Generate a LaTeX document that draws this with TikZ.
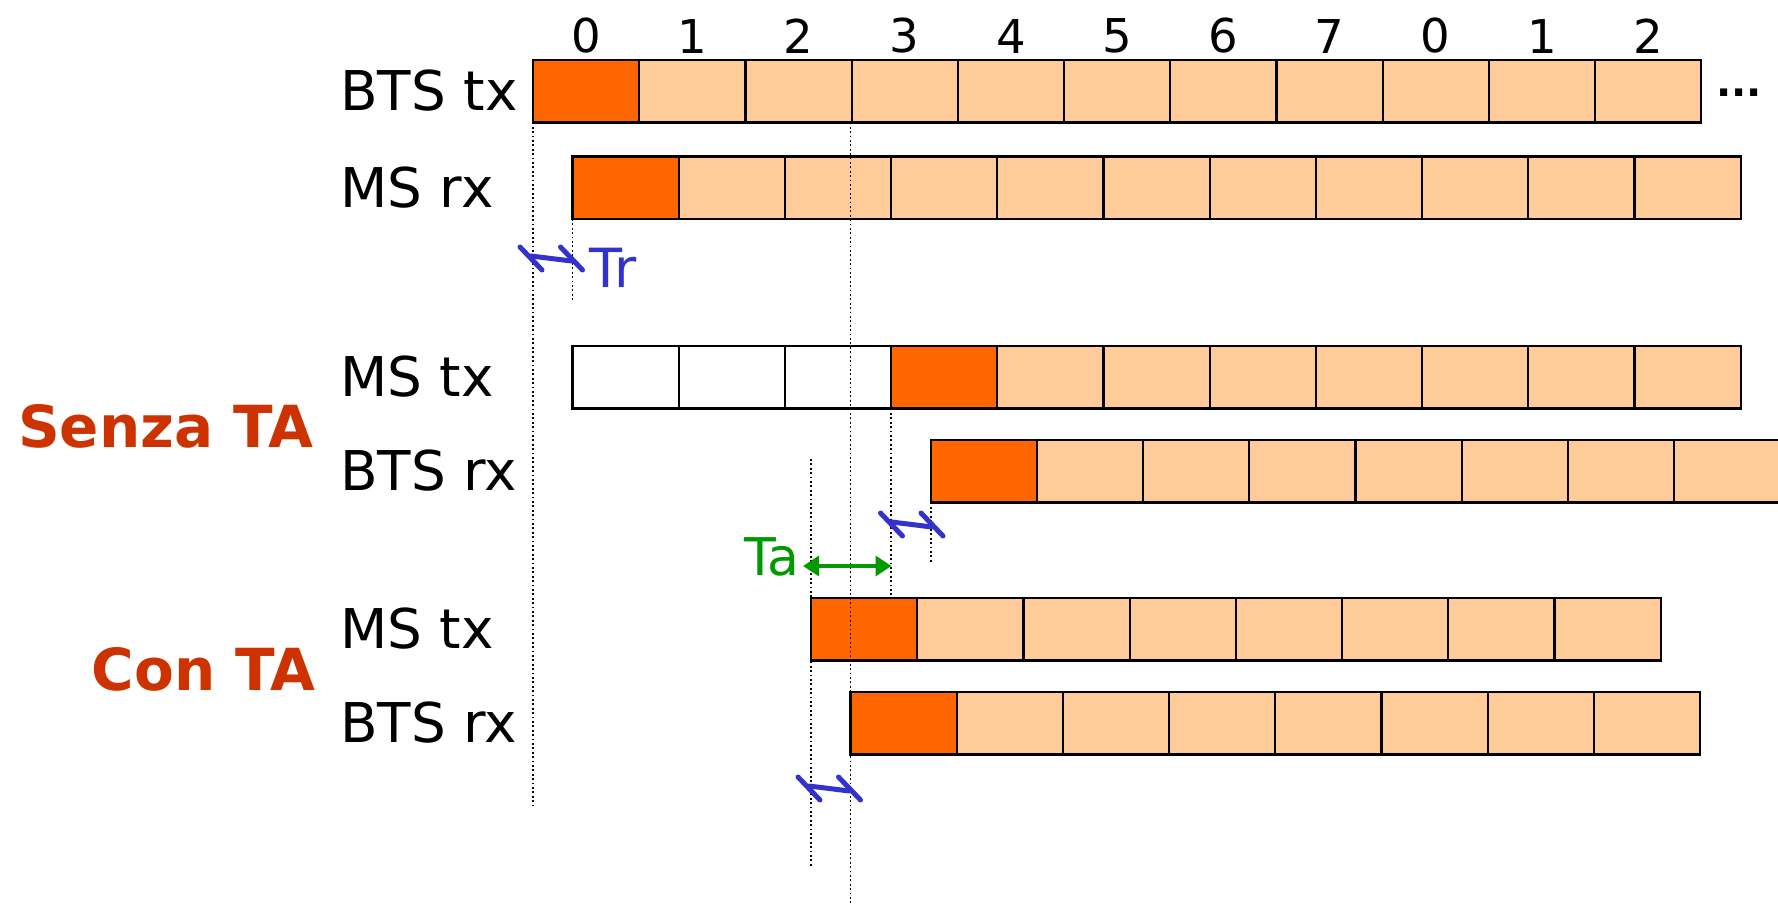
\documentclass[tikz,border=0pt]{standalone}
\usepackage{fontspec}
\setmainfont{DejaVu Sans}
\usetikzlibrary{arrows.meta,positioning}
\definecolor{slotdark}{HTML}{FF6600}
\definecolor{slotlight}{HTML}{FFCC99}
\definecolor{tared}{HTML}{CC3300}
\definecolor{trblue}{HTML}{3333CC}
\definecolor{tagreen}{HTML}{009900}

\begin{document}
\begin{tikzpicture}[x=0.5pt,y=-0.5pt,
  slot/.style={draw=black,line width=1.1pt,fill=slotlight,minimum width=53.1pt,
    minimum height=31.25pt,inner sep=0pt,outer sep=0pt,anchor=north west},
  first/.style={slot,fill=slotdark},
  blank/.style={slot,fill=white},
  rowlabel/.style={anchor=west,inner sep=0pt,font=\fontsize{27.4}{30}\selectfont},
  digit/.style={inner sep=0pt,font=\fontsize{23.3}{26}\selectfont},
  sidelabel/.style={anchor=east,inner sep=0pt,text=tared,font=\fontsize{29}{32}\selectfont\bfseries},
  dotline/.style={line width=0.9pt,dash pattern=on 0.9pt off 1.3pt},
  trmark/.style={trblue,line width=2.5pt,line cap=round}]
\useasboundingbox (0,0) rectangle (1778,904);

% BTS tx
\node[first] (btx0) at (533,60) {};
\foreach \i in {1,...,10}
  \node[slot] (btx\i) at ({533+106.2*\i},60) {};
\foreach \d [count=\k from 0] in {0,1,2,3,4,5,6,7,0,1,2}
  \node[digit,above=3pt of btx\k] (num\k) {\d};
\node[anchor=base west,inner sep=0pt,font=\fontsize{20}{22}\selectfont\bfseries] (more) at (1716,97) {...};

% MS rx
\node[first] (mrx0) at (572.5,156.5) {};
\foreach \i in {1,...,10}
  \node[slot] (mrx\i) at ({572.5+106.2*\i},156.5) {};

% Senza TA: MS tx and BTS rx
\foreach \i in {0,1,2}
  \node[blank] (smtx\i) at ({572.5+106.2*\i},346) {};
\node[first] (smtx3) at (891.1,346) {};
\foreach \i in {4,...,10}
  \node[slot] (smtx\i) at ({572.5+106.2*\i},346) {};
\node[first] (sbrx0) at (930.6,440) {};
\foreach \i in {1,...,7}
  \node[slot] (sbrx\i) at ({930.6+106.2*\i},440) {};

% Con TA: MS tx and BTS rx
\node[first] (cmtx0) at (811,598) {};
\foreach \i in {1,...,7}
  \node[slot] (cmtx\i) at ({811+106.2*\i},598) {};
\node[first] (cbrx0) at (850.5,692) {};
\foreach \i in {1,...,7}
  \node[slot] (cbrx\i) at ({850.5+106.2*\i},692) {};

% Row labels
\node[rowlabel] (lbtx) at (340,91) {BTS tx};
\node[rowlabel] (lmrx) at (340,188) {MS rx};
\node[rowlabel] (lsmtx) at (340,377) {MS tx};
\node[rowlabel] (lsbrx) at (340,471) {BTS rx};
\node[rowlabel] (lcmtx) at (340,629) {MS tx};
\node[rowlabel] (lcbrx) at (340,723) {BTS rx};
\node[sidelabel] (senza) at (314,426) {Senza TA};
\node[sidelabel] (con) at (316,669) {Con TA};

% Dotted guides
\coordinate (g0) at (533,805);
\coordinate (g1) at (572.5,300);
\coordinate (g2a) at (850.5,122.5);
\coordinate (g2b) at (850.5,904);
\coordinate (g3) at (891.1,595);
\coordinate (g4) at (930.6,563);
\coordinate (g5a) at (811,459);
\coordinate (g5b) at (811,868);
\draw[dotline] (btx0.south west) -- (g0);
\draw[dotline] (mrx0.south west) -- (g1);
\draw[dotline] (g2a) -- (g2b);
\draw[dotline] (smtx3.south west) -- (g3);
\draw[dotline] (sbrx0.south west) -- (g4);
\draw[dotline] (g5a) -- (g5b);

% Tr markers
\foreach \xa/\xb/\ym in {531/571.5/258.5, 891.5/932/524.5, 809/849.5/788.5} {
  \draw[trmark] ({\xa-11},{\ym-11.5}) -- ({\xa+11},{\ym+11.5});
  \draw[trmark] ({\xb-11},{\ym-11.5}) -- ({\xb+11},{\ym+11.5});
  \draw[trmark] (\xa,{\ym-2.5}) -- (\xb,{\ym+2.5});
}
\node[anchor=west,inner sep=0pt,text=trblue,font=\fontsize{27}{30}\selectfont] (tr) at (589,268) {Tr};

% Ta
\coordinate (ta1) at (803,566);
\coordinate (ta2) at (891.5,566);
\draw[tagreen,line width=1.75pt,{Triangle[length=8pt,width=10pt]}-{Triangle[length=8pt,width=10pt]}] (ta1) -- (ta2);
\node[anchor=base east,inner sep=0pt,text=tagreen,font=\fontsize{26}{28}\selectfont] (ta) at (800,575) {Ta};
\end{tikzpicture}
\end{document}
